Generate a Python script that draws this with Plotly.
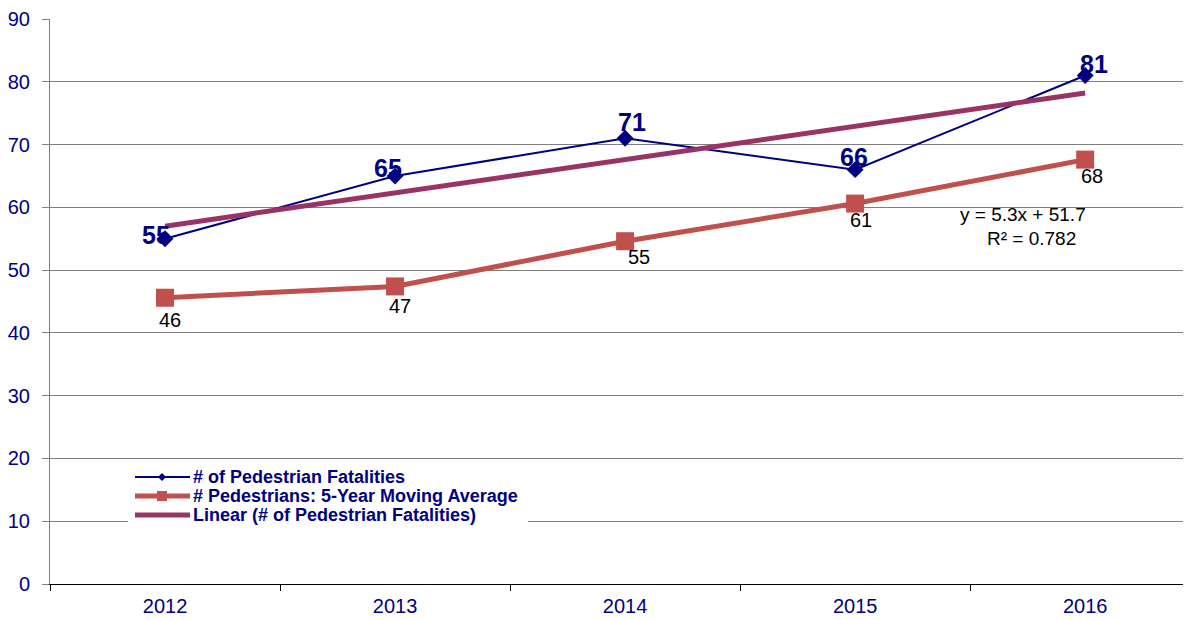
import numpy as np
import plotly.graph_objects as go

years = ["2012", "2013", "2014", "2015", "2016"]
fatalities = [55, 65, 71, 66, 81]
moving_avg = [45.6, 47.4, 54.6, 60.6, 67.6]
moving_avg_labels = ["46", "47", "55", "61", "68"]
y_ticks = [0, 10, 20, 30, 40, 50, 60, 70, 80, 90]
series_names = ["# of Pedestrian Fatalities",
                "# Pedestrians: 5-Year Moving Average",
                "Linear (# of Pedestrian Fatalities)"]
equation_text = "y = 5.3x + 51.7"
r2_text = "R² = 0.782"

# linear trendline (least squares) of fatalities, as in the source chart
idx = np.arange(1, len(fatalities) + 1)
slope, intercept = np.polyfit(idx, fatalities, 1)
trend = list(slope * idx + intercept)

NAVY = "#000080"
RED = "#C0504D"
PLUM = "#993366"
FONT = "Liberation Sans, Arial, sans-serif"

# page body has an 8px margin -> figure sized to fit the 1191x620 window
W, H = 1183, 612
ML, MR, MT, MB = 42, 0, 11, 36
PW, PH = W - ML - MR, H - MT - MB


def px(xp):  # window pixel -> paper x
    return (xp - 8 - ML) / PW


def py(yp):  # window pixel -> paper y
    return (H - MB + 8 - yp) / PH


fig = go.Figure()
fig.add_trace(go.Scatter(
    x=years, y=fatalities, name=series_names[0], showlegend=False,
    mode="lines+markers",
    line=dict(color=NAVY, width=2),
    marker=dict(symbol="diamond", size=13, color=NAVY),
))
fig.add_trace(go.Scatter(
    x=years, y=moving_avg, name=series_names[1], showlegend=False,
    mode="lines+markers",
    line=dict(color=RED, width=5),
    marker=dict(symbol="square", size=18, color=RED),
))
fig.add_trace(go.Scatter(
    x=years, y=trend, name=series_names[2], showlegend=False,
    mode="lines",
    line=dict(color=PLUM, width=5),
))

# data labels
fat_shift = [(-9, 4), (-7, 8), (7, 16), (-1, 13), (9, 12)]
for i, v in enumerate(fatalities):
    dx, dy = fat_shift[i]
    fig.add_annotation(x=i, y=v, text=str(v), showarrow=False,
                       xshift=dx, yshift=dy,
                       font=dict(family=FONT, size=25, color=NAVY, weight="bold"))
ma_shift = [(5, -22), (5, -20), (14, -16), (6, -16), (7, -16)]
for i, v in enumerate(moving_avg):
    dx, dy = ma_shift[i]
    fig.add_annotation(x=i, y=v, text=moving_avg_labels[i], showarrow=False,
                       xshift=dx, yshift=dy,
                       font=dict(family=FONT, size=20, color="black"))

fig.add_annotation(x=3.73, y=58.9, text=equation_text, showarrow=False,
                   font=dict(family=FONT, size=19, color="black"))
fig.add_annotation(x=3.765, y=55.0, text=r2_text, showarrow=False,
                   font=dict(family=FONT, size=19, color="black"))

# legend drawn by hand (white box over gridlines)
shapes = [dict(type="rect", xref="paper", yref="paper",
               x0=px(128), x1=px(528), y0=py(526), y1=py(466),
               fillcolor="white", line=dict(width=0), layer="above")]
rows = [477, 496, 515]
line_styles = [(NAVY, 2), (RED, 5), (PLUM, 5)]
for r, (c, w) in zip(rows, line_styles):
    shapes.append(dict(type="line", xref="paper", yref="paper",
                       x0=px(135), x1=px(190), y0=py(r), y1=py(r),
                       line=dict(color=c, width=w), layer="above"))
# diamond marker in legend
d = 4
shapes.append(dict(type="path", xref="paper", yref="paper", layer="above",
                   path=f"M {px(162)} {py(477 - d)} L {px(162 + d)} {py(477)} "
                        f"L {px(162)} {py(477 + d)} L {px(162 - d)} {py(477)} Z",
                   fillcolor=NAVY, line=dict(width=0)))
# square marker in legend
s = 5
shapes.append(dict(type="rect", xref="paper", yref="paper", layer="above",
                   x0=px(162 - s), x1=px(162 + s), y0=py(496 + s), y1=py(496 - s),
                   fillcolor=RED, line=dict(width=0)))
for r, name in zip(rows, series_names):
    fig.add_annotation(xref="paper", yref="paper", x=px(191), y=py(r),
                       xanchor="left", yanchor="middle", text=name,
                       showarrow=False,
                       font=dict(family=FONT, size=18, color=NAVY, weight="bold"))

fig.update_layout(
    width=W, height=H,
    margin=dict(l=ML, r=MR, t=MT, b=MB),
    paper_bgcolor="white", plot_bgcolor="white",
    hovermode=False, showlegend=False,
    font=dict(family=FONT, color=NAVY),
    shapes=shapes,
    xaxis=dict(
        type="category", range=[-0.5, 4.46],
        showgrid=False, showline=True, linecolor="black", linewidth=1,
        ticks="outside", tickson="boundaries", ticklen=6, tickcolor="black",
        ticklabelstandoff=4,
        tickfont=dict(family=FONT, size=20, color=NAVY),
        zeroline=False,
    ),
    yaxis=dict(
        range=[0, 90], tickvals=y_ticks,
        showgrid=True, gridcolor="#7f7f7f", gridwidth=1,
        showline=True, linecolor="#7f7f7f", linewidth=1,
        ticks="outside", ticklen=7, tickcolor="#7f7f7f",
        ticklabelstandoff=8,
        tickfont=dict(family=FONT, size=20, color=NAVY),
        zeroline=False,
    ),
)

fig.write_html("out.html")
